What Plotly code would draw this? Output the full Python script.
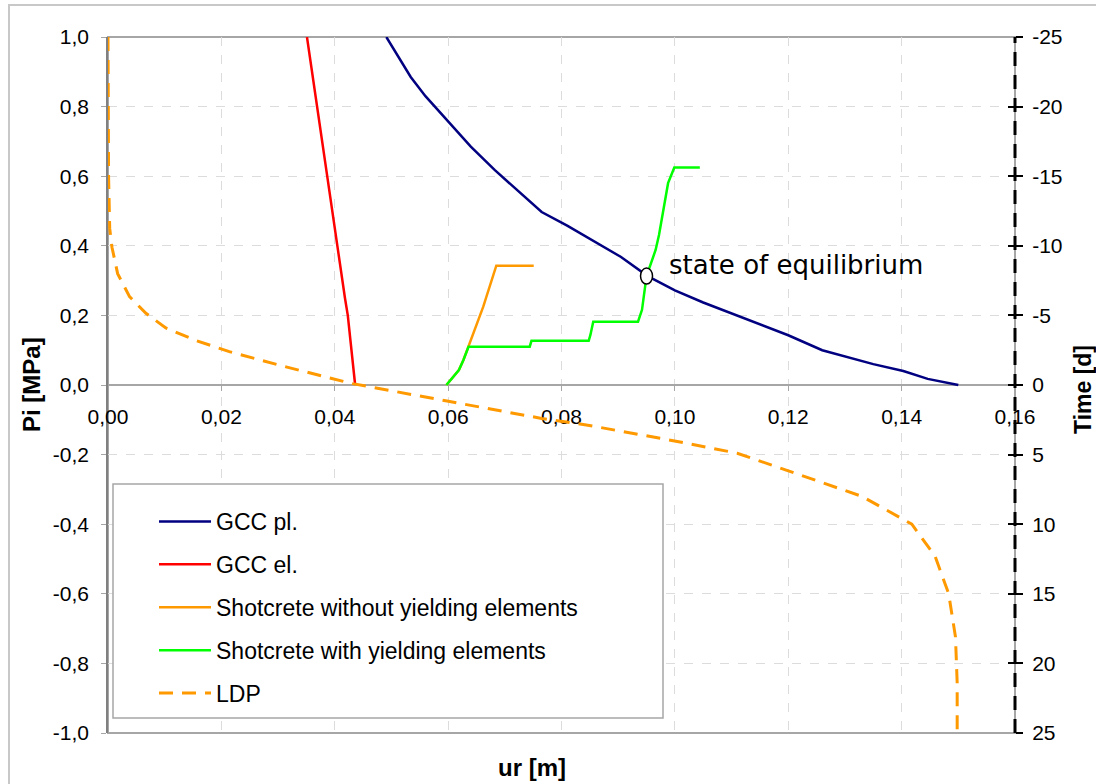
import plotly.graph_objects as go

# ---------------- data ----------------
gcc_pl_x = [0.0491, 0.0534, 0.0560, 0.0602, 0.0640, 0.0682, 0.0725, 0.0765, 0.0810, 0.0860,
            0.0905, 0.0952, 0.1000, 0.1050, 0.1100, 0.1150, 0.1200, 0.1260, 0.1300, 0.1350,
            0.1403, 0.1446, 0.1500]
gcc_pl_p = [1.000, 0.885, 0.830, 0.753, 0.685, 0.618, 0.555, 0.497, 0.458, 0.410,
            0.368, 0.313, 0.272, 0.237, 0.205, 0.173, 0.143, 0.100, 0.082, 0.060,
            0.040, 0.0175, 0.000]

gcc_el_x = [0.0351, 0.0373, 0.0396, 0.0418, 0.0423, 0.0430, 0.0436]
gcc_el_p = [1.00, 0.75, 0.50, 0.25, 0.20, 0.10, 0.00]

shot_no_x = [0.0597, 0.0619, 0.0627, 0.0636, 0.0662, 0.0685, 0.0751]
shot_no_p = [0.000, 0.043, 0.072, 0.110, 0.225, 0.343, 0.343]

shot_yi_x = [0.0597, 0.0619, 0.0627, 0.0636, 0.0744, 0.0747, 0.0848, 0.0851, 0.0856, 0.0935,
             0.0942, 0.0950, 0.0966, 0.0972, 0.0988, 0.0999, 0.1044]
shot_yi_p = [0.000, 0.043, 0.072, 0.110, 0.110, 0.127, 0.127, 0.144, 0.182, 0.182,
             0.216, 0.313, 0.388, 0.431, 0.580, 0.625, 0.625]

ldp_x = [0.0000, 0.0001, 0.0003, 0.0007, 0.0017, 0.0038, 0.0067, 0.0102, 0.0155, 0.0214,
         0.0314, 0.0431, 0.0598, 0.0765, 0.0841, 0.0997, 0.1110, 0.1206, 0.1330, 0.1418,
         0.1459, 0.1483, 0.1495, 0.1498, 0.1498]
ldp_t = [-25.0, -15.0, -11.25, -9.9, -8.0, -6.35, -5.15, -4.1, -3.2, -2.4,
         -1.3, -0.1, 1.15, 2.4, 2.85, 4.0, 4.9, 6.25, 8.0, 10.0,
         12.3, 15.0, 18.1, 21.4, 25.0]

eq_x = 0.0950
eq_p = 0.313

x_ticks = [0.00, 0.02, 0.04, 0.06, 0.08, 0.10, 0.12, 0.14, 0.16]
x_tick_labels = ["0,00", "0,02", "0,04", "0,06", "0,08", "0,10", "0,12", "0,14", "0,16"]
y_ticks = [-1.0, -0.8, -0.6, -0.4, -0.2, 0.0, 0.2, 0.4, 0.6, 0.8, 1.0]
y_tick_labels = ["-1,0", "-0,8", "-0,6", "-0,4", "-0,2", "0,0", "0,2", "0,4", "0,6", "0,8", "1,0"]
t_ticks = [-25, -20, -15, -10, -5, 0, 5, 10, 15, 20, 25]
t_tick_labels = ["-25", "-20", "-15", "-10", "-5", "0", "5", "10", "15", "20", "25"]

# ---------------- figure ----------------
fig = go.Figure()
fig.add_trace(go.Scatter(x=gcc_pl_x, y=gcc_pl_p, mode="lines", name="GCC pl.",
                         legendgroup="a", line=dict(color="#000080", width=2.5)))
fig.add_trace(go.Scatter(x=gcc_el_x, y=gcc_el_p, mode="lines", name="GCC el.",
                         legendgroup="b", line=dict(color="#FF0000", width=2.5)))
fig.add_trace(go.Scatter(x=shot_no_x, y=shot_no_p, mode="lines",
                         name="Shotcrete without yielding elements",
                         legendgroup="c", line=dict(color="#FF9900", width=2.5)))
fig.add_trace(go.Scatter(x=shot_yi_x, y=shot_yi_p, mode="lines",
                         name="Shotcrete with yielding elements",
                         legendgroup="d", line=dict(color="#00FF00", width=2.5)))
fig.add_trace(go.Scatter(x=ldp_x, y=ldp_t, mode="lines", name="LDP", yaxis="y2",
                         legendgroup="e",
                         line=dict(color="#FF9900", width=3, dash="14px,9px")))
fig.add_trace(go.Scatter(x=[None], y=[None], yaxis="y3", showlegend=False,
                         hoverinfo="skip"))

grid_col = "#dcdcdc"
fig.update_layout(
    width=1096, height=784,
    margin=dict(l=108, r=81, t=37, b=51),
    paper_bgcolor="white", plot_bgcolor="white",
    separators=",.",
    font=dict(family="Liberation Sans, Arial, sans-serif", size=21, color="black"),
    showlegend=True,
    legend=dict(x=(154 - 108) / 907, y=(733 - 500) / 696, xanchor="left", yanchor="top",
                bgcolor="rgba(0,0,0,0)", borderwidth=0, tracegroupgap=10, itemwidth=52,
                font=dict(size=23, family="Liberation Sans, Arial, sans-serif")),
    xaxis=dict(range=[0, 0.16], tickvals=x_ticks, ticktext=x_tick_labels,
               anchor="free", position=0.5,
               showline=True, linecolor="#a6a6a6", linewidth=1.5,
               ticks="outside", ticklen=5, tickcolor="#a6a6a6",
               showgrid=True, gridcolor=grid_col, griddash="dash", gridwidth=1,
               zeroline=False, ticklabelstandoff=8, layer="below traces"),
    yaxis=dict(range=[-1, 1], tickvals=y_ticks, ticktext=y_tick_labels,
               showline=True, linecolor="#808080", linewidth=1.5,
               ticks="outside", ticklen=5, tickcolor="#a6a6a6",
               showgrid=True, gridcolor=grid_col, griddash="dash", gridwidth=1,
               zeroline=False, ticklabelstandoff=8, layer="below traces"),
    yaxis2=dict(range=[25, -25], overlaying="y", side="right",
                tickvals=t_ticks, ticktext=t_tick_labels,
                showgrid=False, zeroline=False, showline=False,
                ticks="outside", ticklen=7, tickwidth=2, tickcolor="black",
                ticklabelstandoff=5),
    yaxis3=dict(range=[25, -25], overlaying="y", side="right",
                tickvals=t_ticks, showticklabels=False,
                showgrid=False, zeroline=False, showline=False,
                ticks="inside", ticklen=7, tickwidth=2, tickcolor="black"),
    shapes=[
        # outer chart frame
        dict(type="rect", xref="paper", yref="paper",
             x0=(9 - 108) / 907, x1=(1100 - 108) / 907,
             y0=(733 - 790) / 696, y1=(733 - 5) / 696,
             line=dict(color="#c8c8c8", width=2), layer="below"),
        # plot border
        dict(type="rect", xref="paper", yref="paper", x0=0, x1=1, y0=0, y1=1,
             line=dict(color="#a6a6a6", width=2), layer="below"),
        # dashed right axis line
        dict(type="line", xref="paper", yref="paper", x0=1, x1=1, y0=0, y1=1,
             line=dict(color="black", width=3, dash="14px,9px"), layer="above"),
        # legend box
        dict(type="rect", xref="paper", yref="paper",
             x0=(113 - 108) / 907, x1=(663 - 108) / 907,
             y0=(733 - 718) / 696, y1=(733 - 484) / 696,
             fillcolor="white", line=dict(color="#a6a6a6", width=1.5), layer="above"),
        # equilibrium marker
        dict(type="circle", xref="x", yref="y", xsizemode="pixel", ysizemode="pixel",
             xanchor=eq_x, yanchor=eq_p, x0=-6, x1=6, y0=-8, y1=8,
             fillcolor="white", line=dict(color="black", width=1.5), layer="above"),
    ],
    annotations=[
        dict(text="state of equilibrium", x=eq_x, y=eq_p, xref="x", yref="y",
             xanchor="left", yanchor="middle", xshift=20, yshift=11, showarrow=False,
             font=dict(family="DejaVu Sans, Verdana, sans-serif", size=26, color="black")),
        dict(text="<b>Pi [MPa]</b>", x=(31 - 108) / 907, y=0.5, xref="paper", yref="paper",
             textangle=-90, showarrow=False, xanchor="center", yanchor="middle",
             font=dict(size=24)),
        dict(text="<b>ur [m]</b>", x=(532 - 108) / 907, y=(733 - 767) / 696,
             xref="paper", yref="paper", showarrow=False,
             xanchor="center", yanchor="middle", font=dict(size=24)),
        dict(text="<b>Time [d]</b>", x=(1083 - 108) / 907, y=(733 - 390) / 696,
             xref="paper", yref="paper", textangle=-90, showarrow=False,
             xanchor="center", yanchor="middle", font=dict(size=23)),
    ],
)

fig.write_html("out.html")
